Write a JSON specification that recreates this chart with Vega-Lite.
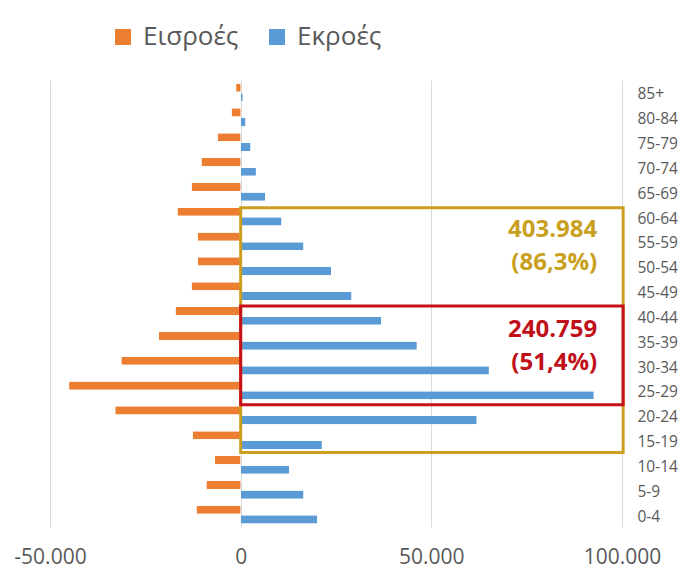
{
  "$schema": "https://vega.github.io/schema/vega-lite/v6.json",
  "autosize": {"type": "none"},
  "padding": {"left": 50, "top": 80, "right": 56, "bottom": 46},
  "width": 572,
  "height": 447,
  "background": "white",
  "config": {
    "locale": {"number": {"decimal": ",", "thousands": ".", "grouping": [3], "currency": ["", " €"], "minus": "-"}},
    "view": {"stroke": null},
    "font": "Open Sans"
  },
  "datasets": {
    "flows": [
      {"age": "0-4", "series": "Εισροές", "value": -11600},
      {"age": "0-4", "series": "Εκροές", "value": 20100},
      {"age": "5-9", "series": "Εισροές", "value": -9000},
      {"age": "5-9", "series": "Εκροές", "value": 16500},
      {"age": "10-14", "series": "Εισροές", "value": -6800},
      {"age": "10-14", "series": "Εκροές", "value": 12700},
      {"age": "15-19", "series": "Εισροές", "value": -12600},
      {"age": "15-19", "series": "Εκροές", "value": 21300},
      {"age": "20-24", "series": "Εισροές", "value": -32900},
      {"age": "20-24", "series": "Εκροές", "value": 61900},
      {"age": "25-29", "series": "Εισροές", "value": -45000},
      {"age": "25-29", "series": "Εκροές", "value": 92600},
      {"age": "30-34", "series": "Εισροές", "value": -31300},
      {"age": "30-34", "series": "Εκροές", "value": 65100},
      {"age": "35-39", "series": "Εισροές", "value": -21500},
      {"age": "35-39", "series": "Εκροές", "value": 46200},
      {"age": "40-44", "series": "Εισροές", "value": -17100},
      {"age": "40-44", "series": "Εκροές", "value": 36859},
      {"age": "45-49", "series": "Εισροές", "value": -12900},
      {"age": "45-49", "series": "Εκροές", "value": 29100},
      {"age": "50-54", "series": "Εισροές", "value": -11300},
      {"age": "50-54", "series": "Εκροές", "value": 23700},
      {"age": "55-59", "series": "Εισροές", "value": -11300},
      {"age": "55-59", "series": "Εκροές", "value": 16500},
      {"age": "60-64", "series": "Εισροές", "value": -16600},
      {"age": "60-64", "series": "Εκροές", "value": 10725},
      {"age": "65-69", "series": "Εισροές", "value": -12900},
      {"age": "65-69", "series": "Εκροές", "value": 6400},
      {"age": "70-74", "series": "Εισροές", "value": -10300},
      {"age": "70-74", "series": "Εκροές", "value": 4000},
      {"age": "75-79", "series": "Εισροές", "value": -6000},
      {"age": "75-79", "series": "Εκροές", "value": 2600},
      {"age": "80-84", "series": "Εισροές", "value": -2400},
      {"age": "80-84", "series": "Εκροές", "value": 1300},
      {"age": "85+", "series": "Εισροές", "value": -1200},
      {"age": "85+", "series": "Εκροές", "value": 532}
    ]
  },
  "layer": [
    {
      "data": {"name": "flows"},
      "mark": {"type": "bar", "cornerRadius": 1},
      "encoding": {
        "y": {
          "field": "age", "type": "nominal",
          "scale": {
            "domain": ["85+", "80-84", "75-79", "70-74", "65-69", "60-64", "55-59", "50-54", "45-49", "40-44", "35-39", "30-34", "25-29", "20-24", "15-19", "10-14", "5-9", "0-4"],
            "paddingInner": 0.28, "paddingOuter": 0.14
          },
          "axis": {
            "orient": "right", "title": null, "ticks": false, "domain": false,
            "labelFontSize": 15.5, "labelColor": "#595959", "labelPadding": 15, "labelAlign": "left", "labelOffset": 2
          }
        },
        "yOffset": {
          "field": "series", "type": "nominal",
          "scale": {"domain": ["Εισροές", "Εκροές"], "paddingInner": 0.15}
        },
        "x": {
          "field": "value", "type": "quantitative",
          "scale": {"domain": [-50000, 100000], "nice": false},
          "axis": {
            "values": [-50000, 0, 50000, 100000], "format": ",d", "title": null,
            "ticks": false, "domain": false, "grid": true, "gridColor": "#d9d9d9", "gridWidth": 1,
            "labelFontSize": 21, "labelColor": "#595959", "labelPadding": 19, "labelFlush": false
          }
        },
        "color": {
          "field": "series", "type": "nominal",
          "scale": {"domain": ["Εισροές", "Εκροές"], "range": ["#ED7D31", "#5B9BD5"]},
          "legend": {
            "orient": "none", "legendX": 60, "legendY": -56, "direction": "horizontal",
            "title": null, "symbolType": "square", "symbolSize": 256, "symbolStrokeWidth": 0,
            "labelFontSize": 26, "labelFontWeight": 500, "labelColor": "#595959", "labelOffset": 7, "columnPadding": 25
          }
        }
      }
    },
    {
      "data": {"values": [{"from": "60-64", "to": "15-19", "x0": 0, "x1": 100300}]},
      "mark": {"type": "rect", "fill": null, "stroke": "#CC9E1F", "strokeWidth": 3},
      "encoding": {
        "y": {"field": "from", "type": "nominal", "bandPosition": 0},
        "y2": {"field": "to", "bandPosition": 1.2},
        "x": {"field": "x0", "type": "quantitative"},
        "x2": {"field": "x1"}
      }
    },
    {
      "data": {"values": [{"from": "40-44", "to": "25-29", "x0": 0, "x1": 100300}]},
      "mark": {"type": "rect", "fill": null, "stroke": "#C8101A", "strokeWidth": 3},
      "encoding": {
        "y": {"field": "from", "type": "nominal", "bandPosition": -0.05},
        "y2": {"field": "to", "bandPosition": 1.3},
        "x": {"field": "x0", "type": "quantitative"},
        "x2": {"field": "x1"}
      }
    },
    {
      "data": {"values": [
        {"age": "55-59", "x": 93500, "label": "403.984\n(86,3%)", "box": "gold"},
        {"age": "35-39", "x": 93500, "label": "240.759\n(51,4%)", "box": "red"}
      ]},
      "mark": {"type": "text", "align": "right", "baseline": "middle", "fontSize": 24, "fontWeight": "bold", "lineBreak": "\n", "lineHeight": 33, "dy": -11},
      "encoding": {
        "y": {"field": "age", "type": "nominal"},
        "x": {"field": "x", "type": "quantitative"},
        "text": {"field": "label"},
        "color": {
          "field": "box", "type": "nominal",
          "scale": {"domain": ["gold", "red"], "range": ["#C9A01E", "#C0101A"]},
          "legend": null
        }
      }
    }
  ],
  "resolve": {"scale": {"color": "independent"}}
}
